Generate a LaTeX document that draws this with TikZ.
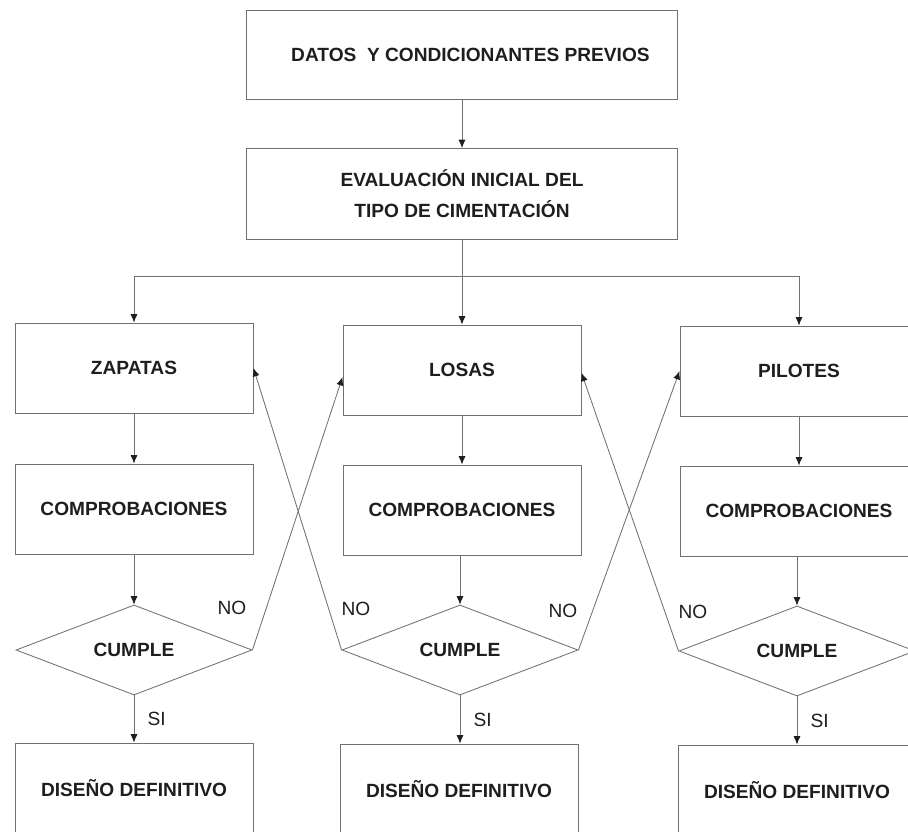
\documentclass[tikz,border=0pt]{standalone}
\usepackage{fontspec}
\setmainfont{Liberation Sans}
\usetikzlibrary{positioning, calc, arrows.meta, shapes.geometric}
\definecolor{Linea}{HTML}{707070}
\definecolor{Texto}{HTML}{1E1E1E}
\tikzset{
    caja/.style={rectangle, draw=Linea, line width=0.6pt, text=Texto, align=center, inner sep=0pt,
        font=\fontsize{13.6}{22}\selectfont\bfseries, minimum width=5.95cm, minimum height=2.25cm},
    cajaancha/.style={caja, minimum width=10.78cm, minimum height=2.22cm},
    rombo/.style={diamond, aspect=2.6, draw=Linea, line width=0.6pt, text=Texto, inner sep=0pt,
        font=\fontsize{13.6}{22}\selectfont\bfseries, minimum width=5.9cm, minimum height=2.25cm},
    flecha/.style={-{Latex[length=6pt,width=5pt,color=Texto]}, line width=0.6pt, draw=Linea},
    etiqueta/.style={font=\fontsize{13.6}{15}\selectfont, text=Texto},
}
\begin{document}
\begin{tikzpicture}[x=0.025cm, y=-0.025cm]
    \useasboundingbox (0,0) rectangle (908,832);

    % Cabecera
    \node[cajaancha] (datos) at (462,55) {\hspace*{12pt}DATOS \ Y CONDICIONANTES PREVIOS};
    \node[cajaancha, minimum height=2.27cm] (evaluacion) at (462,194) {EVALUACIÓN INICIAL DEL\\TIPO DE CIMENTACIÓN};
    \coordinate (reparto) at (462,276); % punto de reparto hacia las tres columnas

    % Tipos de cimentacion
    \node[caja] (zapatas) at (134,368) {ZAPATAS};
    \node[caja] (losas)   at (462,370) {LOSAS};
    \node[caja] (pilotes) at (799,371) {PILOTES};

    % Comprobaciones
    \node[caja] (compzap) at (134,509) {COMPROBACIONES};
    \node[caja] (complos) at (462,510) {COMPROBACIONES};
    \node[caja] (comppil) at (799,511) {COMPROBACIONES};

    % Rombos de decision
    \node[rombo] (cumplezap) at (134,650) {CUMPLE};
    \node[rombo] (cumplelos) at (460,650) {CUMPLE};
    \node[rombo] (cumplepil) at (797,651) {CUMPLE};

    % Diseno definitivo
    \node[caja] (diszap) at (134,788) {DISEÑO DEFINITIVO};
    \node[caja] (dislos) at (459,789) {DISEÑO DEFINITIVO};
    \node[caja] (dispil) at (797,790) {DISEÑO DEFINITIVO};

    % Flujo principal
    \draw[flecha] (datos) -- (evaluacion);
    \draw[line width=0.6pt, draw=Linea] (evaluacion.south) -- (reparto);
    \draw[flecha] (reparto) -| (zapatas.north);
    \draw[flecha] (reparto) -- (losas.north);
    \draw[flecha] (reparto) -| (pilotes.north);

    \draw[flecha] (zapatas) -- (compzap);
    \draw[flecha] (losas) -- (complos);
    \draw[flecha] (pilotes) -- (comppil);

    \draw[flecha] (compzap) -- (cumplezap);
    \draw[flecha] (complos.south -| cumplelos.north) -- (cumplelos.north);
    \draw[flecha] (comppil.south -| cumplepil.north) -- (cumplepil.north);

    % Rama SI
    \draw[flecha] (cumplezap.south) -- node[etiqueta, right=6pt] (sizap) {SI} (diszap.north -| cumplezap.south);
    \draw[flecha] (cumplelos.south) -- node[etiqueta, right=6pt] (silos) {SI} (dislos.north -| cumplelos.south);
    \draw[flecha] (cumplepil.south) -- node[etiqueta, right=6pt] (sipil) {SI} (dispil.north -| cumplepil.south);

    % Rama NO: vuelta a otro tipo de cimentacion
    \draw[flecha] (cumplezap.east) -- ([yshift=-5pt]losas.west);
    \draw[flecha] (cumplelos.west) -- (zapatas.east);
    \draw[flecha] (cumplelos.east) -- (pilotes.west);
    \draw[flecha] (cumplepil.west) -- ([yshift=-2pt]losas.east);

    \node[etiqueta] (nozap)  at (232,608) {NO};
    \node[etiqueta] (nolos1) at (356,609) {NO};
    \node[etiqueta] (nolos2) at (563,611) {NO};
    \node[etiqueta] (nopil)  at (693,612) {NO};
\end{tikzpicture}
\end{document}
